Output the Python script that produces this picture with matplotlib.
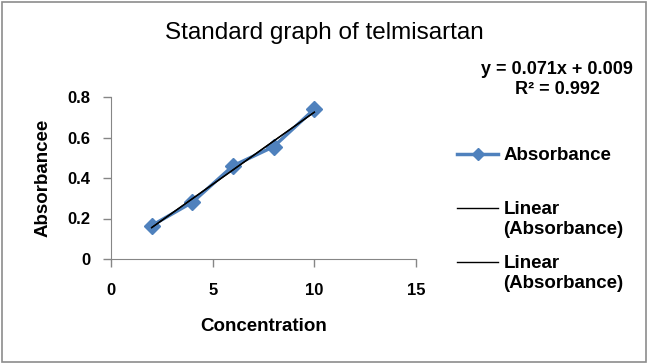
import matplotlib
matplotlib.use("Agg")
import matplotlib.pyplot as plt
import numpy as np
from matplotlib.patches import Rectangle

concentration = [2, 4, 6, 8, 10]
absorbance = [0.165, 0.28, 0.46, 0.555, 0.74]
x_ticks = [0, 5, 10, 15]
y_ticks = [0, 0.2, 0.4, 0.6, 0.8]
y_tick_labels = ["0", "0.2", "0.4", "0.6", "0.8"]

plt.rcParams['font.family'] = ['Liberation Sans', 'DejaVu Sans']

fig = plt.figure(figsize=(6.48, 3.64), dpi=100)
ax = fig.add_axes([111/648, 1-259/364, 305/648, 162/364])

blue = '#4F81BD'
line_data, = ax.plot(concentration, absorbance, color=blue, lw=2.5, marker='D',
                     markersize=8, label='Absorbance', zorder=2)
coef = np.polyfit(concentration, absorbance, 1)
xs = np.array([min(concentration), max(concentration)])
trend1, = ax.plot(xs, np.polyval(coef, xs), color='black', lw=1, label='Linear', zorder=3)
trend2, = ax.plot(xs, np.polyval(coef, xs), color='black', lw=1, label='Linear', zorder=3)

ax.set_xlim(0, 15)
ax.set_ylim(0, 0.8)
ax.set_xticks(x_ticks)
ax.set_yticks(y_ticks)
ax.set_yticklabels(y_tick_labels)
for s in ['top', 'right']:
    ax.spines[s].set_visible(False)
for s in ['left', 'bottom']:
    ax.spines[s].set_color('#868686')
ax.tick_params(colors='#868686', labelcolor='black', length=6, width=1, labelsize=12)
for lab in ax.get_xticklabels() + ax.get_yticklabels():
    lab.set_fontweight('bold')
ax.tick_params(axis='x', pad=11)
ax.tick_params(axis='y', pad=9)

ax.set_xlabel('Concentration', fontsize=13.5, fontweight='bold', labelpad=15)
ax.set_ylabel('Absorbancee', fontsize=13.5, fontweight='bold', labelpad=11)

fig.text(0.5, 1-33/364, 'Standard graph of telmisartan', ha='center', va='center', fontsize=17.5)
fig.text(557/648, 1-69/364, 'y = 0.071x + 0.009', ha='center', va='center',
         fontsize=13, fontweight='bold')
fig.text(557/648, 1-90/364, 'R² = 0.992', ha='center', va='center',
         fontsize=13, fontweight='bold')

leg = fig.legend(handles=[line_data, trend1, trend2], loc='upper left',
                 bbox_to_anchor=(457/648, 1-147/364), frameon=False,
                 prop={'weight': 'bold', 'size': 13.5}, handlelength=2.2,
                 handletextpad=0.3, labelspacing=1.97, borderaxespad=0, borderpad=0,
                 markerscale=0.8)
for yy in (230, 284):
    fig.text(503/648, 1-yy/364, '(Absorbance)', ha='left', va='center',
             fontsize=13.5, fontweight='bold')

fig.patches.append(Rectangle((0.003, 0.005), 0.994, 0.99, transform=fig.transFigure,
                             fill=False, edgecolor='#8c8c8c', lw=1.2))

fig.savefig('out.png', dpi=100)
